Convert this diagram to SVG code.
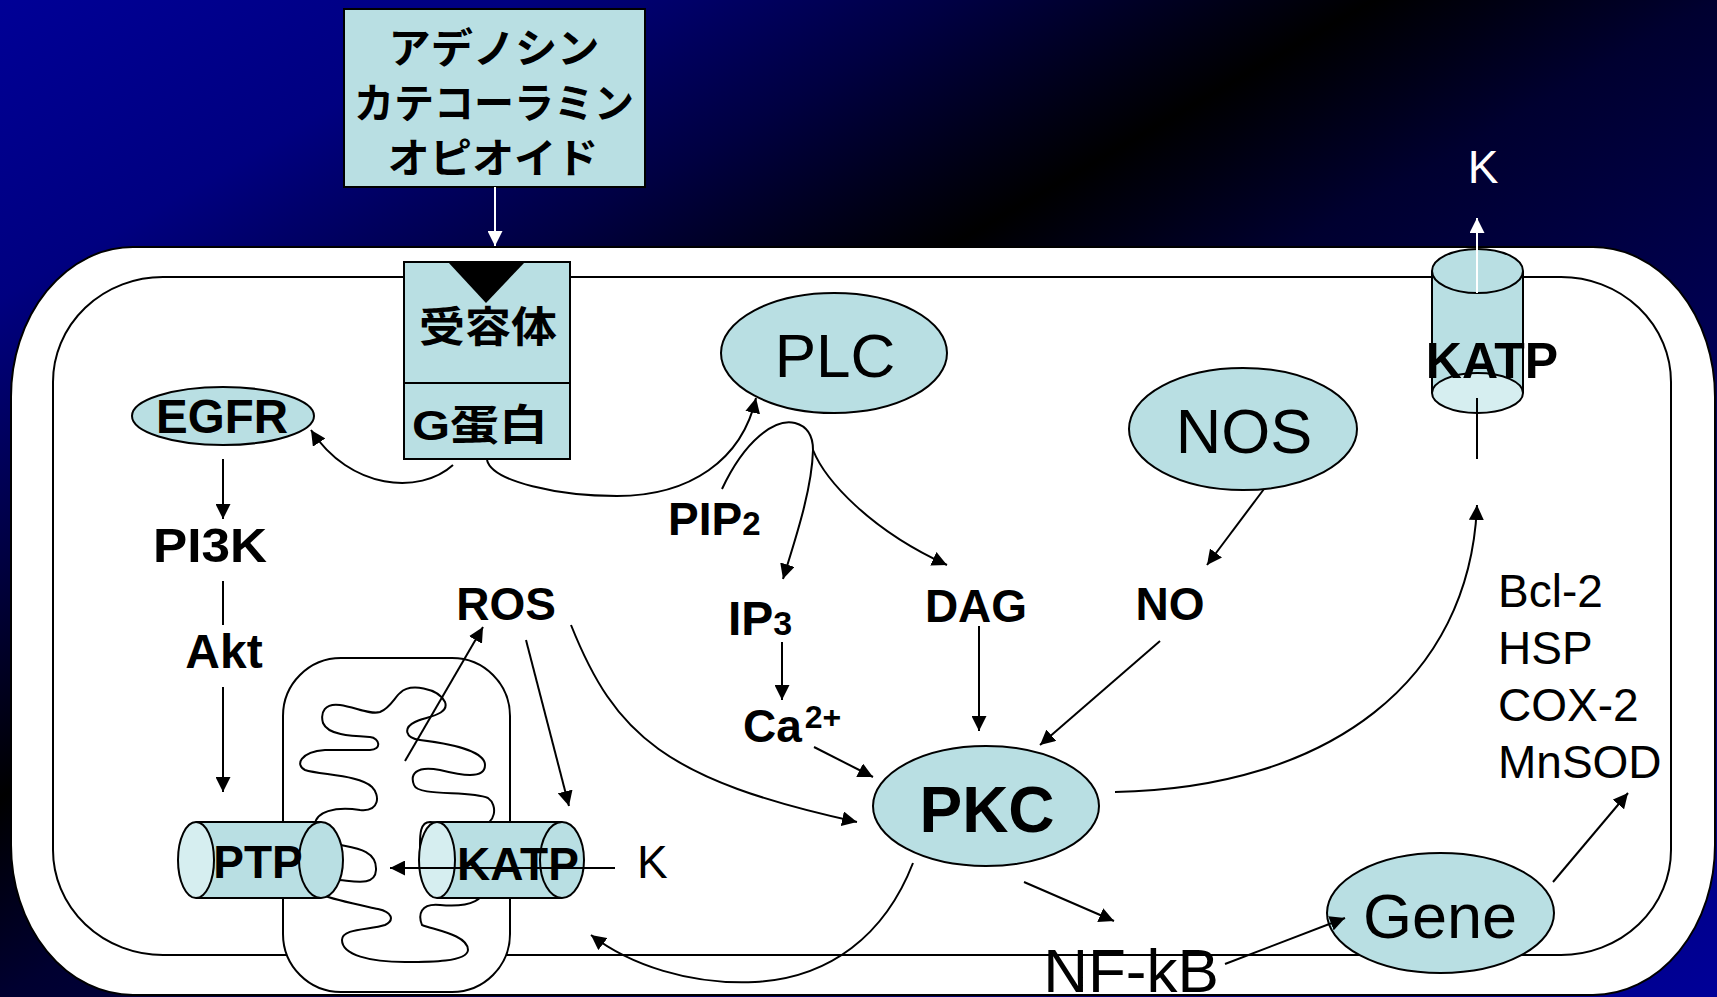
<svg xmlns="http://www.w3.org/2000/svg" width="1717" height="997" viewBox="0 0 1717 997">
  <defs>
    <linearGradient id="bg" x1="0" y1="0" x2="1" y2="1">
      <stop offset="0" stop-color="#000096"/>
      <stop offset="0.15" stop-color="#000080"/>
      <stop offset="0.28" stop-color="#000042"/>
      <stop offset="0.40" stop-color="#000000"/>
      <stop offset="0.50" stop-color="#000030"/>
      <stop offset="1" stop-color="#000098"/>
    </linearGradient>
    <marker id="ah" viewBox="0 0 15 15" refX="15" refY="7.5" markerWidth="15" markerHeight="15" markerUnits="userSpaceOnUse" orient="auto">
      <path d="M0,0 L15,7.5 L0,15 Z" fill="#000"/>
    </marker>
    <marker id="ahw" viewBox="0 0 15 15" refX="15" refY="7.5" markerWidth="15" markerHeight="15" markerUnits="userSpaceOnUse" orient="auto">
      <path d="M0,0 L15,7.5 L0,15 Z" fill="#fff"/>
    </marker>
    <style>
      .node { fill: #B9DFE3; stroke: #000; stroke-width: 2; }
      .face { fill: #D6EEF0; stroke: #000; stroke-width: 2; }
      .edge { fill: none; stroke: #000; stroke-width: 2; }
      .b { font-family: "Liberation Sans", Arial, sans-serif; font-weight: bold; fill: #000; }
      .r { font-family: "Liberation Sans", Arial, sans-serif; fill: #000; }
      .jp { font-family: "Liberation Sans", "Noto Sans CJK JP", sans-serif; font-weight: bold; fill: #000; }
      .mid { text-anchor: middle; }
    </style>
  </defs>

  <!-- background -->
  <rect x="0" y="0" width="1717" height="997" fill="url(#bg)"/>

  <!-- cell: outer membrane, inner membrane -->
  <g id="cell">
    <rect x="11" y="247" width="1704" height="748" rx="122" ry="150" fill="#fff" stroke="#000" stroke-width="2"/>
    <rect x="53" y="277" width="1618" height="678" rx="110" ry="105" fill="none" stroke="#000" stroke-width="2"/>
  </g>

  <!-- mitochondrion -->
  <g id="mitochondrion">
    <rect x="283" y="658" width="227" height="334" rx="58" ry="58" fill="#fff" stroke="#000" stroke-width="2"/>
    <path fill="none" stroke="#000" stroke-width="2" d="M400,693 C410,683 438,688 445,702 C450,715 425,717 415,722 C403,728 405,738 420,740 C445,743 485,750 485,765 C485,780 460,775 440,770 C415,765 410,775 414,785 C418,797 470,790 488,798 C498,805 496,825 480,825 L430,822 C420,822 420,835 420,845 L420,870 C440,858 485,860 487,880 C488,900 470,908 440,905 C420,903 418,915 422,925 C435,930 468,935 468,950 C467,962 430,962 405,962 C370,962 342,955 342,940 C342,928 370,930 385,925 C395,920 392,912 378,909 C360,905 335,900 322,895 L330,880 C345,878 375,890 376,870 C377,850 355,848 340,845 L315,825 C315,812 335,806 360,810 C380,812 380,795 372,787 C360,775 320,775 305,770 C295,765 300,752 325,750 L370,750 C382,750 380,738 370,737 C350,736 328,735 323,723 C320,712 325,703 340,705 C355,707 370,715 380,712 C390,708 395,697 400,693 Z"/>
  </g>

  <!-- ligands -->
  <g id="ligands">
    <rect x="344" y="9" width="301" height="178" class="node"/>
    <text class="jp mid" x="494" y="63" font-size="41" textLength="211" lengthAdjust="spacingAndGlyphs">アデノシン</text>
    <text class="jp mid" x="494" y="118" font-size="41" textLength="280" lengthAdjust="spacingAndGlyphs">カテコーラミン</text>
    <text class="jp mid" x="493" y="173" font-size="41" textLength="211" lengthAdjust="spacingAndGlyphs">オピオイド</text>
  </g>

  <!-- receptor / G protein -->
  <g id="receptor">
    <rect x="404" y="262" width="166" height="121" class="node" stroke-width="1.5"/>
    <rect x="404" y="383" width="166" height="76" class="node" stroke-width="1.5"/>
    <path d="M448,262 L525,262 L486,303 Z" fill="#000"/>
    <text class="jp mid" x="488" y="342" font-size="42" textLength="138" lengthAdjust="spacingAndGlyphs">受容体</text>
    <text class="jp mid" x="480" y="440" font-size="42" textLength="136" lengthAdjust="spacingAndGlyphs">G蛋白</text>
  </g>

  <g id="egfr">
    <ellipse cx="223" cy="416" rx="91" ry="29" class="node"/>
    <text class="b mid" x="222" y="433" font-size="48" textLength="132" lengthAdjust="spacingAndGlyphs">EGFR</text>
  </g>

  <g id="plc">
    <ellipse cx="834" cy="353" rx="113" ry="60" class="node"/>
    <text class="r mid" x="835" y="377" font-size="62">PLC</text>
  </g>

  <g id="nos">
    <ellipse cx="1243" cy="429" rx="114" ry="61" class="node"/>
    <text class="r mid" x="1244" y="453" font-size="63">NOS</text>
  </g>

  <!-- sarcolemmal KATP channel -->
  <g id="katp-sarc">
    <path d="M1432,271 L1432,393 L1523,393 L1523,271 Z" fill="#B9DFE3" stroke="none"/>
    <path d="M1432,271 V393 M1523,271 V393" class="edge"/>
    <ellipse cx="1477.5" cy="393" rx="45.5" ry="20" class="face"/>
    <ellipse cx="1477.5" cy="271" rx="45.5" ry="22" class="node"/>
    <text class="b mid" x="1492" y="378" font-size="50">KATP</text>
  </g>

  <g id="k-out">
    <text class="r mid" x="1483" y="183" font-size="46" fill="#fff" style="fill:#fff">K</text>
  </g>

  <g id="pi3k"><text class="b mid" x="210" y="562" font-size="48" textLength="114" lengthAdjust="spacingAndGlyphs">PI3K</text></g>
  <g id="akt"><text class="b mid" x="224" y="668" font-size="48">Akt</text></g>
  <g id="ros"><text class="b mid" x="506" y="620" font-size="46">ROS</text></g>
  <g id="pip2"><text class="b" x="668" y="535" font-size="46">PIP<tspan font-size="33">2</tspan></text></g>
  <g id="ip3"><text class="b" x="728" y="635" font-size="48">IP<tspan font-size="34">3</tspan></text></g>
  <g id="ca"><text class="b" x="743" y="742" font-size="46">Ca<tspan font-size="32" dx="3" dy="-14">2+</tspan></text></g>
  <g id="dag"><text class="b mid" x="976" y="622" font-size="46">DAG</text></g>
  <g id="no"><text class="b mid" x="1170" y="620" font-size="46">NO</text></g>

  <g id="pkc">
    <ellipse cx="986" cy="806" rx="113" ry="60" class="node"/>
    <text class="b mid" x="987" y="832" font-size="64">PKC</text>
  </g>

  <g id="gene">
    <ellipse cx="1440.5" cy="913" rx="113.5" ry="60" class="node"/>
    <text class="r mid" x="1440" y="938" font-size="63">Gene</text>
  </g>

  <g id="nfkb"><text class="r mid" x="1131" y="992" font-size="62">NF-kB</text></g>

  <g id="products">
    <text class="r" x="1498" y="607" font-size="46">Bcl-2</text>
    <text class="r" x="1498" y="664" font-size="46">HSP</text>
    <text class="r" x="1498" y="721" font-size="46">COX-2</text>
    <text class="r" x="1498" y="778" font-size="46">MnSOD</text>
  </g>

  <!-- mitochondrial channels -->
  <g id="ptp">
    <rect x="196" y="822" width="125" height="76" fill="#B9DFE3"/>
    <path d="M196,822 H321 M196,898 H321" class="edge"/>
    <ellipse cx="321" cy="860" rx="22" ry="38" class="node"/>
    <ellipse cx="196" cy="860" rx="18" ry="38" class="face"/>
    <text class="b mid" x="258" y="878" font-size="46">PTP</text>
  </g>

  <g id="katp-mito">
    <rect x="437" y="822" width="125" height="76" fill="#B9DFE3"/>
    <path d="M437,822 H562 M437,898 H562" class="edge"/>
    <ellipse cx="562" cy="860" rx="22" ry="38" class="node"/>
    <ellipse cx="437" cy="860" rx="18" ry="38" class="face"/>
    <text class="b mid" x="518" y="880" font-size="46">KATP</text>
  </g>

  <g id="k-in"><text class="r" x="637" y="878" font-size="46">K</text></g>

  <!-- connectors -->
  <g id="connectors">
    <path d="M495,187 L495,246" fill="none" stroke="#fff" stroke-width="2" marker-end="url(#ahw)"/>
    <path d="M1477,293 L1477,218" fill="none" stroke="#fff" stroke-width="2" marker-end="url(#ahw)"/>
    <path d="M453,465 C420,495 350,490 311,430" class="edge" marker-end="url(#ah)"/>
    <path d="M487,460 C492,482 560,496 617,496 C690,496 742,460 756,398" class="edge" marker-end="url(#ah)"/>
    <path d="M722,489 C745,440 775,418 795,423 C810,427 813,440 813,450 C812,490 795,540 783,579" class="edge" marker-end="url(#ah)"/>
    <path d="M813,450 C825,480 870,530 947,565" class="edge" marker-end="url(#ah)"/>
    <path d="M782,642 L782,700" class="edge" marker-end="url(#ah)"/>
    <path d="M814,747 L873,777" class="edge" marker-end="url(#ah)"/>
    <path d="M979,626 L979,731" class="edge" marker-end="url(#ah)"/>
    <path d="M1264,489 L1207,565" class="edge" marker-end="url(#ah)"/>
    <path d="M1160,641 L1040,745" class="edge" marker-end="url(#ah)"/>
    <path d="M571,625 C615,735 665,780 857,822" class="edge" marker-end="url(#ah)"/>
    <path d="M1115,792 C1330,788 1470,680 1477,505" class="edge" marker-end="url(#ah)"/>
    <path d="M1477,398 L1477,459" class="edge"/>
    <path d="M1024,882 L1114,921" class="edge" marker-end="url(#ah)"/>
    <path d="M1225,964 L1345,918" class="edge" marker-end="url(#ah)"/>
    <path d="M1553,882 L1628,793" class="edge" marker-end="url(#ah)"/>
    <path d="M913,863 C885,935 830,978 755,982 C690,985 630,965 591,935" class="edge" marker-end="url(#ah)"/>
    <path d="M223,459 L223,519" class="edge" marker-end="url(#ah)"/>
    <path d="M223,581 L223,625" class="edge" stroke-width="1.3"/>
    <path d="M223,687 L223,792" class="edge" marker-end="url(#ah)"/>
    <path d="M405,761 L483,627" class="edge" marker-end="url(#ah)"/>
    <path d="M526,640 L569,806" class="edge" marker-end="url(#ah)"/>
    <path d="M615,868 L390,868" class="edge" marker-end="url(#ah)"/>
  </g>
</svg>
